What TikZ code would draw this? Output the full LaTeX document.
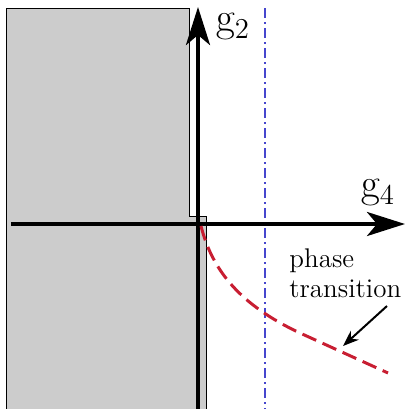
\documentclass[tikz,border=0pt]{standalone}
\usetikzlibrary{arrows.meta}
\definecolor{rouge}{RGB}{200,30,50}
\definecolor{bleu}{RGB}{70,70,205}
\begin{document}
\begin{tikzpicture}[x=0.5pt,y=-0.5pt]

\useasboundingbox (0,0) rectangle (406,409);

% Region grise
\fill[gray!40, draw=black, line width=0.5pt]
(7,8)
-- (190,8)
-- (190,216)
-- (207,216)
-- (207,409)
-- (7,409)
-- cycle;

% Ligne verticale
\draw[bleu, line width=1pt, dash pattern=on 5pt off 2pt on 1pt off 2pt]
(265,8)
--
(265,409);

% Axes
\coordinate (orig) at (198,224);
\coordinate (bas) at (198,409);
\coordinate (haut) at (198,7);
\coordinate (gauche) at (11,224);
\coordinate (droite) at (405,224);

\draw[line width=2pt, -{Stealth[length=19pt,width=12pt,inset=5pt]}]
(bas)
--
(haut);

\draw[line width=2pt, -{Stealth[length=19pt,width=12pt,inset=5pt]}]
(gauche)
--
(droite);

\node[inner sep=0pt] (gdeux)
at (233,27)
{\huge$\mathrm{g}_2$};

\node[inner sep=0pt] (gquatre)
at (378,193)
{\huge$\mathrm{g}_4$};

% Transition de phase
\draw[rouge, line width=1.5pt, dash pattern=on 7.5pt off 3.5pt]
(201,226)
.. controls (212,270) and (240,305) ..
(300,333)
--
(388,373);

\node[align=left, anchor=north west, inner sep=0pt,
      font=\fontsize{13.5}{15}\selectfont]
(phase)
at (289,248)
{phase\\transition};

\coordinate (pointe) at (343,346);

\draw[line width=1pt, -{Stealth[length=8pt,width=6pt]}]
(387,306)
--
(pointe);

\end{tikzpicture}
\end{document}
